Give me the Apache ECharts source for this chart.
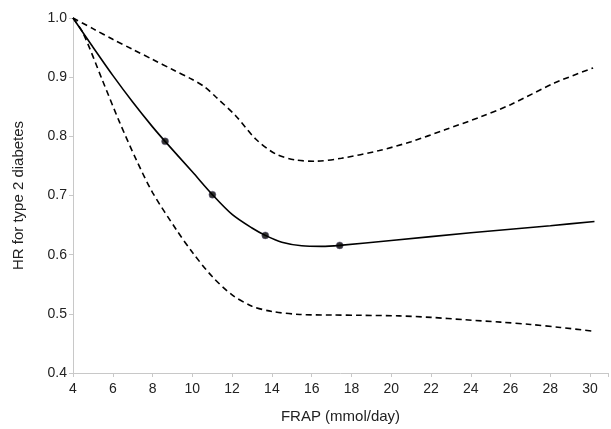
<!DOCTYPE html>
<html>
<head>
<meta charset="utf-8">
<script src="https://cdn.jsdelivr.net/npm/echarts@6/dist/echarts.min.js"></script>
<style>html,body{margin:0;padding:0;background:#fff}#c{width:611px;height:429px}</style>
</head>
<body>
<div id="c"></div>
<script>
// Hazard ratio curve (solid)
const mainX = [4, 5, 6, 7, 8, 8.63, 10, 11.01, 12, 13, 13.67, 14.5, 15.5, 16.5, 17.41, 20, 24, 28, 30.22];
const mainY = [1.0, 0.951, 0.903, 0.858, 0.816, 0.7915, 0.740, 0.7014, 0.668, 0.645, 0.6326, 0.621, 0.615, 0.614, 0.6157, 0.624, 0.637, 0.649, 0.656];
// Knot markers
const knotX = [8.63, 11.01, 13.67, 17.41];
const knotY = [0.7915, 0.7014, 0.6326, 0.6157];
// Upper 95% CI (dashed)
const upperX = [4, 5, 6, 7, 8, 9, 10, 10.6, 11.2, 12.2, 13.2, 14.2, 15.2, 16.2, 17.5, 19.4, 21, 22.7, 24.5, 26, 28.2, 30.15];
const upperY = [1.0, 0.982, 0.964, 0.947, 0.930, 0.913, 0.896, 0.884, 0.866, 0.834, 0.795, 0.770, 0.760, 0.758, 0.763, 0.776, 0.791, 0.811, 0.833, 0.8535, 0.890, 0.9155];
// Lower 95% CI (dashed)
const lowerX = [4, 4.5, 5.5, 6.34, 7.2, 8, 9.2, 10, 11, 12, 13, 14, 15.4, 17, 18.5, 20.4, 22, 23.7, 25.5, 27, 28.5, 30.2];
const lowerY = [1.0, 0.975, 0.893, 0.824, 0.759, 0.705, 0.642, 0.604, 0.563, 0.532, 0.513, 0.504, 0.499, 0.498, 0.4975, 0.4965, 0.494, 0.490, 0.486, 0.482, 0.477, 0.4705];
const xTicks = [4, 6, 8, 10, 12, 14, 16, 18, 20, 22, 24, 26, 28, 30];
const yTicks = [0.4, 0.5, 0.6, 0.7, 0.8, 0.9, 1.0];

const zip = (xs, ys) => xs.map((x, i) => [x, ys[i]]);
const font = '"Liberation Sans", Arial, Helvetica, sans-serif';
const axisGray = '#c8c8c8';

const chart = echarts.init(document.getElementById('c'));
chart.setOption({
  animation: false,
  backgroundColor: '#fff',
  grid: { left: 73, right: 1, top: 18, bottom: 56 },
  xAxis: {
    type: 'value', min: 4, max: 30.9, interval: 2,
    name: 'FRAP (mmol/day)', nameLocation: 'middle', nameGap: 36,
    nameTextStyle: { color: '#222', fontSize: 15, fontFamily: font },
    axisLine: { show: true, lineStyle: { color: axisGray, width: 1 } },
    axisTick: { show: true, length: 4, lineStyle: { color: axisGray } },
    axisLabel: { color: '#222', fontSize: 14, fontFamily: font, margin: 9,
      formatter: v => xTicks.includes(v) ? String(v) : '' },
    splitLine: { show: false }
  },
  yAxis: {
    type: 'value', min: 0.4, max: 1.0, interval: 0.1,
    name: 'HR for type 2 diabetes', nameLocation: 'middle', nameGap: 47,
    nameTextStyle: { color: '#222', fontSize: 15, fontFamily: font },
    axisLine: { show: true, lineStyle: { color: axisGray, width: 1 } },
    axisTick: { show: true, length: 4, lineStyle: { color: axisGray } },
    axisLabel: { color: '#222', fontSize: 14, fontFamily: font, margin: 6,
      formatter: v => { const t = yTicks.find(k => Math.abs(k - v) < 1e-6); return t !== undefined ? t.toFixed(1) : ''; } },
    splitLine: { show: false }
  },
  series: [
    { type: 'line', data: zip(upperX, upperY), smooth: 0.3, showSymbol: false, clip: false,
      lineStyle: { color: '#000', width: 1.6, type: [6, 4] } },
    { type: 'line', data: zip(lowerX, lowerY), smooth: 0.3, showSymbol: false, clip: false,
      lineStyle: { color: '#000', width: 1.6, type: [6, 4] } },
    { type: 'line', data: zip(mainX, mainY), smooth: 0.3, showSymbol: false, clip: false,
      lineStyle: { color: '#000', width: 1.6 } },
    { type: 'scatter', data: zip(knotX, knotY), symbol: 'circle', symbolSize: 7,
      itemStyle: { color: '#000', borderColor: '#6a5f8a', borderWidth: 0.6 } }
  ]
});
</script>
</body>
</html>
